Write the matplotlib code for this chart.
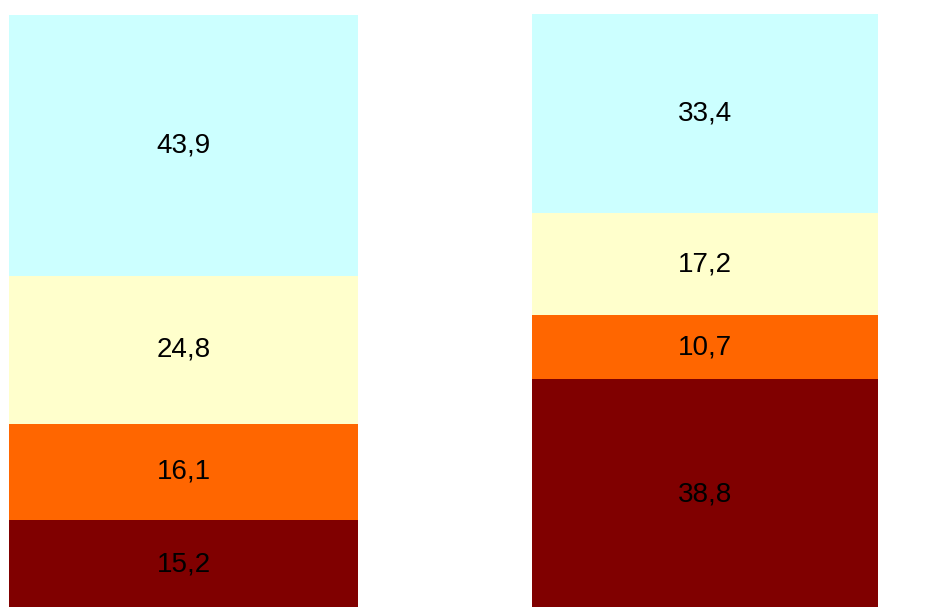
import matplotlib.pyplot as plt
import numpy as np

# Stacked shares per bar (bottom -> top)
bars = ["A", "B"]
red_vals = [15.2, 38.8]
orange_vals = [16.1, 10.7]
yellow_vals = [24.8, 17.2]
cyan_vals = [43.9, 33.4]

series = [red_vals, orange_vals, yellow_vals, cyan_vals]
colors = ["#800000", "#FF6600", "#FFFFCC", "#CCFFFF"]

plt.rcParams['font.family'] = ['Liberation Sans', 'DejaVu Sans']

fig = plt.figure(figsize=(9.52, 6.07), dpi=100)
ax = fig.add_axes([0, 0, 1, 593 / 607])

x = np.arange(len(bars))
widths = [0.669, 0.663]
bottom = np.zeros(len(bars))
for vals, col in zip(series, colors):
    vals = np.array(vals)
    ax.bar(x, vals, bottom=bottom, width=widths, color=col, edgecolor="none")
    for xi, b, v in zip(x, bottom, vals):
        ax.text(xi, b + v / 2, f"{v:.1f}".replace(".", ","),
                ha="center", va="center", fontsize=20, color="black")
    bottom += vals

ax.set_xlim(-0.352, 1.4736)
ax.set_ylim(0.52, 100.1)
ax.axis("off")

fig.savefig("out.png", dpi=100)
